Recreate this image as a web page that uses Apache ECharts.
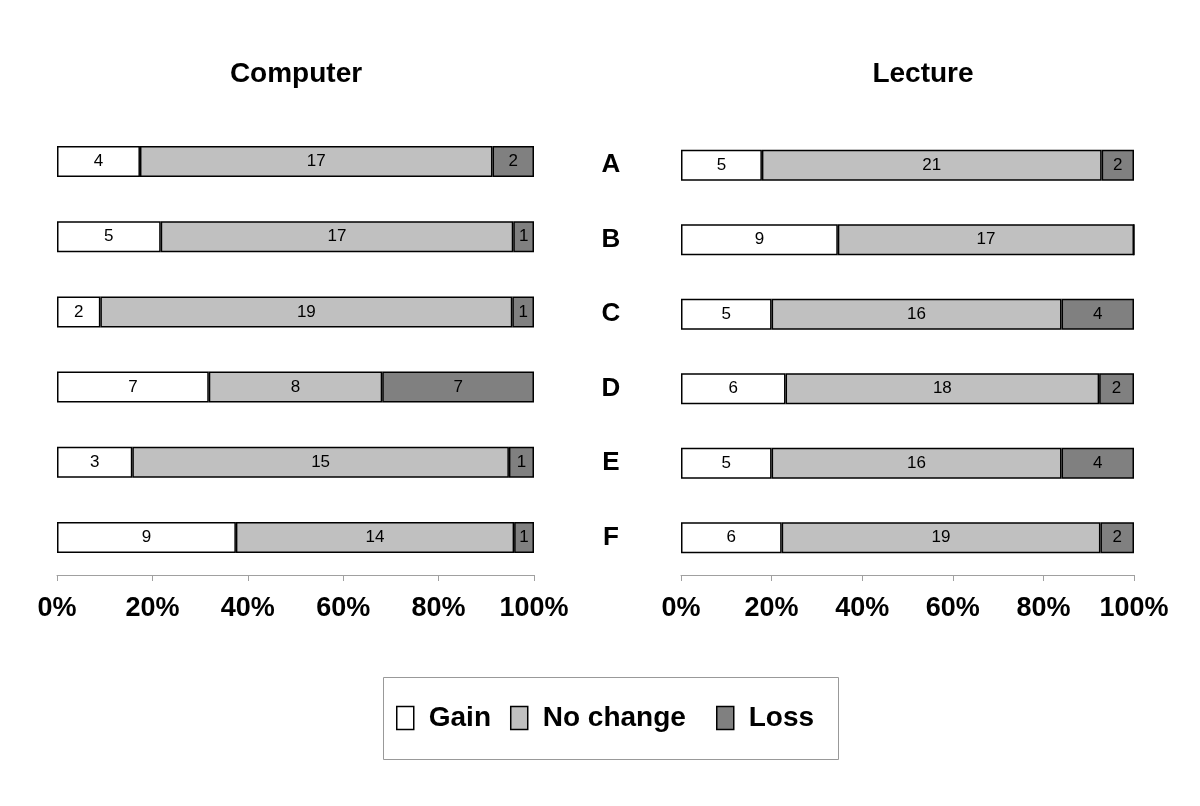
<!DOCTYPE html>
<html>
<head>
<meta charset="utf-8">
<script src="https://cdn.jsdelivr.net/npm/echarts@6/dist/echarts.min.js"></script>
<style>html,body{margin:0;padding:0;background:#fff;}#c{width:1200px;height:806px;}</style>
</head>
<body>
<div id="c"></div>
<script>
var categories = ['A', 'B', 'C', 'D', 'E', 'F'];
var seriesNames = ['Gain', 'No change', 'Loss'];
var computerGain = [4, 5, 2, 7, 3, 9];
var computerNoChange = [17, 17, 19, 8, 15, 14];
var computerLoss = [2, 1, 1, 7, 1, 1];
var lectureGain = [5, 9, 5, 6, 5, 6];
var lectureNoChange = [21, 17, 16, 18, 16, 19];
var lectureLoss = [2, 0, 4, 2, 4, 2];
var panelTitles = ['Computer', 'Lecture'];

var FONT = '"Liberation Sans", Arial, sans-serif';
var colors = ['#ffffff', '#c0c0c0', '#808080'];

function pct(arrs) {
  var tot = arrs[0].map(function (_, i) { return arrs.reduce(function (s, a) { return s + a[i]; }, 0); });
  return arrs.map(function (a) {
    return a.map(function (v, i) { return { value: v / tot[i] * 100, count: v }; });
  });
}
var comp = pct([computerGain, computerNoChange, computerLoss]);
var lect = pct([lectureGain, lectureNoChange, lectureLoss]);

function makeSeries(data, idx) {
  return data.map(function (d, k) {
    return {
      name: seriesNames[k],
      type: 'bar',
      stack: 's' + idx,
      xAxisIndex: idx,
      yAxisIndex: idx,
      barWidth: 31,
      data: d,
      itemStyle: { color: colors[k], borderColor: '#000', borderWidth: 1.5 },
      label: {
        show: true,
        position: 'inside',
        color: '#000',
        fontFamily: FONT,
        fontSize: 17,
        padding: [0, 0, 4, 0],
        formatter: function (p) { return p.data.count > 0 ? String(p.data.count) : ''; }
      },
      emphasis: { disabled: true },
      animation: false
    };
  });
}

function xAx(idx) {
  return {
    gridIndex: idx, type: 'value', min: 0, max: 100, interval: 20,
    axisLine: { show: true, lineStyle: { color: '#a0a0a0', width: 1 } },
    axisTick: { show: true, length: 6, lineStyle: { color: '#a0a0a0' } },
    splitLine: { show: false },
    axisLabel: { formatter: '{value}%', color: '#000', fontFamily: FONT, fontSize: 27, fontWeight: 'bold', margin: 20 }
  };
}

function legendPart(names, left) {
  return {
    data: names,
    left: left, top: 699,
    orient: 'horizontal',
    itemWidth: 17, itemHeight: 23, itemGap: 19,
    icon: 'rect',
    selectedMode: false,
    itemStyle: { borderColor: '#000', borderWidth: 1.5 },
    textStyle: { fontFamily: FONT, fontSize: 28, fontWeight: 'bold', color: '#000', padding: [0, 0, 0, 10] }
  };
}

var chart = echarts.init(document.getElementById('c'), null, { renderer: 'canvas' });
chart.setOption({
  backgroundColor: '#fff',
  animation: false,
  title: [
    { text: panelTitles[0], left: 291, top: 55, textAlign: 'center', textStyle: { fontFamily: FONT, fontSize: 28, fontWeight: 'bold', color: '#000' } },
    { text: panelTitles[1], left: 918, top: 55, textAlign: 'center', textStyle: { fontFamily: FONT, fontSize: 28, fontWeight: 'bold', color: '#000' } }
  ],
  grid: [
    { left: 57, right: 666, top: 124, bottom: 231 },
    { left: 681, right: 66, top: 128, bottom: 231 }
  ],
  xAxis: [xAx(0), xAx(1)],
  yAxis: [
    { gridIndex: 0, type: 'category', data: categories, inverse: true,
      axisLine: { show: false }, axisTick: { show: false }, axisLabel: { show: false } },
    { gridIndex: 1, type: 'category', data: categories, inverse: true,
      axisLine: { show: false }, axisTick: { show: false },
      axisLabel: { show: true, align: 'center', margin: 70, color: '#000', fontFamily: FONT, fontSize: 26, fontWeight: 'bold', padding: [8, 0, 0, 0] } }
  ],
  legend: [
    legendPart([seriesNames[0], seriesNames[1]], 391),
    legendPart([seriesNames[2]], 711)
  ],
  graphic: [
    { type: 'rect', shape: { x: 383.5, y: 677.5, width: 455, height: 82 }, style: { fill: 'none', stroke: '#999', lineWidth: 1 }, z: -1 }
  ],
  series: makeSeries(comp, 0).concat(makeSeries(lect, 1))
});
</script>
</body>
</html>
